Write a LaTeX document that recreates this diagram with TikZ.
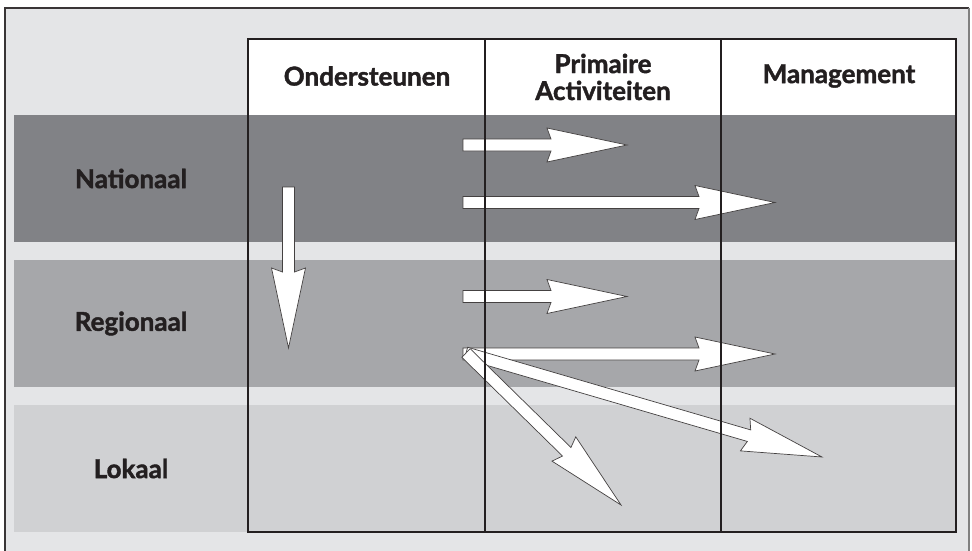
\documentclass[tikz,border=0pt]{standalone}
\usepackage{fontspec}
\setmainfont{Lato}[BoldFeatures={FakeBold=1.6}]
\usetikzlibrary{calc}

\definecolor{framebg}{HTML}{E4E5E7}
\definecolor{bandnat}{HTML}{818286}
\definecolor{bandreg}{HTML}{A6A7AA}
\definecolor{bandlok}{HTML}{D0D1D3}
\definecolor{ink}{HTML}{231F20}

% block arrow between two named coordinates
\newcommand{\blkarrow}[2]{%
 \filldraw[blockarrow] let \p1=(#1), \p2=(#2),
   \n1={atan2(\y2-\y1,\x2-\x1)}, \n2={veclen(\x2-\x1,\y2-\y1)} in
   [shift={(\p1)},rotate=\n1]
   (0,6) -- ({\n2-76},6) -- ({\n2-80},17) -- ({\n2},0)
   -- ({\n2-80},-17) -- ({\n2-76},-6) -- (0,-6) -- cycle;}

\begin{document}
\begin{tikzpicture}[x=1pt,y=-1pt,
 lbl/.style={font=\bfseries\fontsize{26}{27}\selectfont,text=ink,align=center},
 gridline/.style={ink,line width=2.8pt},
 blockarrow/.style={fill=white,draw=ink!85,line width=.7pt,line join=miter}]
\useasboundingbox (0,0) rectangle (972,551);
\clip (0,0) rectangle (972,551);
% frame
\fill[framebg] (5,8) rectangle (969,560);
\draw[ink!90,line width=2.6pt] (5,560) -- (5,8) -- (969,8);
\draw[gray,line width=2pt] (969,8) -- (969,560);
% rows
\foreach \t/\b/\c/\lab/\nm in {115/242/bandnat/Nationaal/nat,260/387/bandreg/Regionaal/reg,405/532/bandlok/Lokaal/lok}{
 \fill[\c] (14,\t) rectangle (956,\b);
 \node[lbl] (\nm) at (131,{(\t+\b)/2}) {\lab};
}
\fill[white] (248,39) rectangle (956,115);
% arrows
\coordinate (ondTail) at (288.5,187);  \coordinate (ondHead) at (288.5,348);
\coordinate (natTailA) at (463,145);   \coordinate (natHeadA) at (627,145);
\coordinate (natTailB) at (463,202.5); \coordinate (natHeadB) at (775,202.5);
\coordinate (regTailA) at (463,296.5); \coordinate (regHeadA) at (627,296.5);
\coordinate (regTailB) at (463,354);   \coordinate (regHeadB) at (775,354);
\coordinate (regTailC) at (466,353);
\coordinate (lokHeadA) at (822,457);   \coordinate (lokHeadB) at (621,505);
\blkarrow{ondTail}{ondHead}
\blkarrow{natTailA}{natHeadA}
\blkarrow{natTailB}{natHeadB}
\blkarrow{regTailA}{regHeadA}
\blkarrow{regTailB}{regHeadB}
\blkarrow{regTailC}{lokHeadA}
\blkarrow{regTailC}{lokHeadB}
% table lines
\draw[gridline] (248,39) rectangle (956,532);
\foreach \x in {485,721}{\draw[gridline] (\x,39) -- (\x,532);}
% column heads
\node[lbl] (ond) at (367,76) {Ondersteunen};
\node[lbl] (prim) at (603,77) {Primaire\\Activiteiten};
\node[lbl] (mgmt) at (839,76) {Management};
\end{tikzpicture}
\end{document}
